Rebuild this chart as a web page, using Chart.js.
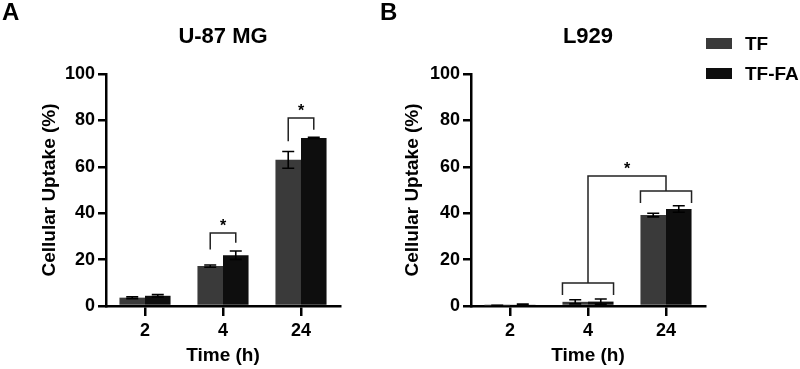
<!DOCTYPE html>
<html>
<head>
<meta charset="utf-8">
<script src="https://cdn.jsdelivr.net/npm/chart.js@4.4.1/dist/chart.umd.min.js"></script>
<style>
  body { margin: 0; background: #fff; }
  #wrap { position: relative; width: 800px; height: 369px; overflow: hidden; }
  .panel { position: absolute; top: 0; width: 400px; height: 369px; }
  .letter { position: absolute; top: 0; font: bold 24px "Liberation Sans", Arial, sans-serif; line-height: 24px; color: #000; }
</style>
</head>
<body>
<div id="wrap">
  <div class="panel" style="left:0"><canvas id="chartA" width="400" height="369"></canvas></div>
  <div class="panel" style="left:400px"><canvas id="chartB" width="400" height="369"></canvas></div>
  <div class="letter" style="left:2px">A</div>
  <div class="letter" style="left:380px">B</div>
</div>
<script>
// time points (h)
var timePoints = ['2', '4', '24'];
var seriesNames = ['TF', 'TF-FA'];
var seriesColors = ['#3a3a3a', '#0e0e0e'];

// U-87 MG
var u87TF = [3.6, 17.2, 63.0];
var u87TFErr = [0.4, 0.5, 3.6];
var u87TFFA = [4.4, 21.9, 72.4];
var u87TFFAErr = [0.5, 1.8, 0.3];
// [group index, bracket top, left leg end, right leg end]
var u87Sig = [[1, 31.5, 24.3, 27.3], [2, 81, 71, 76]];

// L929
var l929TF = [0.15, 1.8, 39.2];
var l929TFErr = [0.1, 0.9, 0.8];
var l929TFFA = [0.6, 1.9, 41.8];
var l929TFFAErr = [0.2, 1.1, 1.4];
// [group index, bracket top, leg end]
var l929Groups = [[1, 9.9, 4.7], [2, 49.6, 44.4]];
var l929LinkTop = 56;

var FONT = "'Liberation Sans', Arial, sans-serif";

var errorBars = {
    id: 'errorBars',
    afterDatasetsDraw: function (chart) {
        var ctx = chart.ctx;
        var y = chart.scales.y;
        ctx.save();
        ctx.strokeStyle = '#000';
        ctx.lineWidth = 1.6;
        chart.data.datasets.forEach(function (ds, i) {
            chart.getDatasetMeta(i).data.forEach(function (bar, j) {
                var v = ds.data[j], e = ds.errors[j];
                var y1 = y.getPixelForValue(v + e), y2 = y.getPixelForValue(v - e);
                ctx.beginPath();
                ctx.moveTo(bar.x, y1); ctx.lineTo(bar.x, y2);
                ctx.moveTo(bar.x - 6, y1); ctx.lineTo(bar.x + 6, y1);
                ctx.moveTo(bar.x - 6, y2); ctx.lineTo(bar.x + 6, y2);
                ctx.stroke();
            });
        });
        ctx.restore();
    }
};

function star(ctx, x, yTop) {
    ctx.font = 'bold 16px ' + FONT;
    ctx.textAlign = 'center';
    ctx.textBaseline = 'alphabetic';
    ctx.fillStyle = '#000';
    ctx.fillText('*', x, yTop - 2);
}

function makeChart(id, title, tf, tfErr, tffa, tffaErr, yWidth, yTitlePad, extra) {
    return new Chart(document.getElementById(id).getContext('2d'), {
        type: 'bar',
        data: {
            labels: timePoints,
            datasets: [
                { label: seriesNames[0], data: tf, errors: tfErr, backgroundColor: seriesColors[0] },
                { label: seriesNames[1], data: tffa, errors: tffaErr, backgroundColor: seriesColors[1] }
            ]
        },
        options: {
            responsive: false,
            animation: false,
            layout: { padding: { left: 0, right: 400 - yWidth - 234, top: 0, bottom: 0 } },
            datasets: { bar: { categoryPercentage: 0.655, barPercentage: 1, borderWidth: 0 } },
            plugins: {
                legend: { display: false },
                tooltip: { enabled: false },
                title: {
                    display: true, text: title, fullSize: false, color: '#000',
                    font: { family: FONT, size: 22, weight: 'bold', lineHeight: 1.2 },
                    padding: { top: 24, bottom: 23.6 }
                }
            },
            scales: {
                x: {
                    afterFit: function (s) { s.height = 63; },
                    grid: { display: true, drawOnChartArea: false, offset: false, tickLength: 10, lineWidth: 2.5, color: '#000' },
                    border: { display: true, color: '#000', width: 2.5 },
                    ticks: { color: '#000', padding: 4, font: { family: FONT, size: 18, weight: 'bold' } },
                    title: { display: true, text: 'Time (h)', color: '#000', padding: { top: 0, bottom: 2 },
                        font: { family: FONT, size: 19, weight: 'bold', lineHeight: 1.2 } }
                },
                y: {
                    min: 0, max: 100,
                    afterFit: function (s) { s.width = yWidth; },
                    grid: { display: true, drawOnChartArea: false, tickLength: 8, lineWidth: 2.5, color: '#000' },
                    border: { display: true, color: '#000', width: 2.5 },
                    ticks: { stepSize: 20, color: '#000', padding: 3, font: { family: FONT, size: 18, weight: 'bold' } },
                    title: { display: true, text: 'Cellular Uptake (%)', color: '#000', padding: { top: yTitlePad, bottom: 0 },
                        font: { family: FONT, size: 19, weight: 'bold', lineHeight: 1.2 } }
                }
            }
        },
        plugins: [errorBars, extra]
    });
}

var u87Marks = {
    id: 'u87Marks',
    afterDatasetsDraw: function (chart) {
        var ctx = chart.ctx, y = chart.scales.y;
        var m0 = chart.getDatasetMeta(0), m1 = chart.getDatasetMeta(1);
        ctx.save();
        ctx.strokeStyle = '#222';
        ctx.lineWidth = 1.5;
        u87Sig.forEach(function (s) {
            var x1 = m0.data[s[0]].x, x2 = m1.data[s[0]].x, top = y.getPixelForValue(s[1]);
            ctx.beginPath();
            ctx.moveTo(x1, y.getPixelForValue(s[2]));
            ctx.lineTo(x1, top);
            ctx.lineTo(x2, top);
            ctx.lineTo(x2, y.getPixelForValue(s[3]));
            ctx.stroke();
            star(ctx, (x1 + x2) / 2, top);
        });
        ctx.restore();
    }
};

var l929Marks = {
    id: 'l929Marks',
    afterDatasetsDraw: function (chart) {
        var ctx = chart.ctx, y = chart.scales.y, x = chart.scales.x;
        var m0 = chart.getDatasetMeta(0), m1 = chart.getDatasetMeta(1);
        ctx.save();
        ctx.strokeStyle = '#222';
        ctx.lineWidth = 1.5;
        l929Groups.forEach(function (g) {
            var b0 = m0.data[g[0]], b1 = m1.data[g[0]];
            var x1 = b0.x - b0.width / 2, x2 = b1.x + b1.width / 2;
            var top = y.getPixelForValue(g[1]), leg = y.getPixelForValue(g[2]);
            ctx.beginPath();
            ctx.moveTo(x1, leg); ctx.lineTo(x1, top); ctx.lineTo(x2, top); ctx.lineTo(x2, leg);
            ctx.stroke();
        });
        var xa = x.getPixelForValue(l929Groups[0][0]), xb = x.getPixelForValue(l929Groups[1][0]);
        var linkTop = y.getPixelForValue(l929LinkTop);
        ctx.beginPath();
        ctx.moveTo(xa, y.getPixelForValue(l929Groups[0][1]));
        ctx.lineTo(xa, linkTop);
        ctx.lineTo(xb, linkTop);
        ctx.lineTo(xb, y.getPixelForValue(l929Groups[1][1]));
        ctx.stroke();
        star(ctx, (xa + xb) / 2, linkTop);

        // legend
        ctx.font = 'bold 19px ' + FONT;
        ctx.textAlign = 'left';
        ctx.textBaseline = 'middle';
        chart.data.datasets.forEach(function (ds, i) {
            var cy = 43.5 + i * 30;
            ctx.fillStyle = ds.backgroundColor;
            ctx.fillRect(306, cy - 5.5, 26, 11);
            ctx.fillStyle = '#000';
            ctx.fillText(ds.label, 345, cy + 1);
        });
        ctx.restore();
    }
};

makeChart('chartA', 'U-87 MG', u87TF, u87TFErr, u87TFFA, u87TFFAErr, 106, 38.6, u87Marks);
makeChart('chartB', 'L929', l929TF, l929TFErr, l929TFFA, l929TFFAErr, 71, 1.6, l929Marks);
</script>
</body>
</html>
